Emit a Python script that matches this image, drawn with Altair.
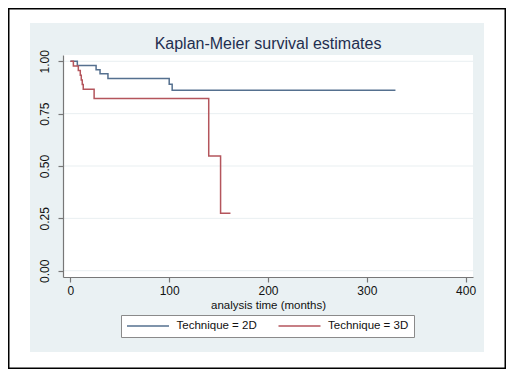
import altair as alt
import pandas as pd

# ---- data ----
times_2d = [0, 7, 26, 30, 38, 100, 103, 329]
surv_2d = [1.0, 0.980, 0.960, 0.940, 0.918, 0.890, 0.862, 0.862]
times_3d = [0, 3, 8, 10, 11, 12, 13, 24, 140, 152, 162]
surv_3d = [1.0, 0.978, 0.956, 0.933, 0.911, 0.889, 0.867, 0.822, 0.548, 0.274, 0.274]
groups = ["Technique = 2D", "Technique = 3D"]
x_ticks = [0, 100, 200, 300, 400]
y_ticks = [0.0, 0.25, 0.5, 0.75, 1.0]

# ---- styles ----
FONT = "Liberation Sans, Arial, Helvetica, sans-serif"
colors = ["#55708f", "#b4555c"]
PANEL = "#eaf1f3"
GRID = "#e9eff1"
AXIS = "#777777"
W, H = 410, 222

rows = []
for g, ts, ss in [(groups[0], times_2d, surv_2d), (groups[1], times_3d, surv_3d)]:
    for t, s in zip(ts, ss):
        rows.append({"group": g, "time": t, "surv": s})
km = pd.DataFrame(rows)
one = pd.DataFrame({"k": [0]})
grid_df = pd.DataFrame({"surv": y_ticks})

xscale = alt.Scale(domain=[-7.5, 407.5], nice=False, zero=False)
yscale = alt.Scale(domain=[-0.03, 1.03], nice=False, zero=False)

yaxis = alt.Axis(values=y_ticks, format=".2f", labelAngle=270, labelAlign="center",
                 labelBaseline="bottom", labelPadding=7, labelFontSize=12, labelFont=FONT,
                 labelColor="#111111", tickSize=5, tickColor=AXIS, tickWidth=1.2,
                 domainColor=AXIS, domainWidth=1.2, grid=False, title="", zindex=1)
xaxis = alt.Axis(values=x_ticks, format="d", labelFontSize=12, labelFont=FONT,
                 labelColor="#111111", labelPadding=3, labelFlush=False, tickSize=5,
                 tickColor=AXIS, tickWidth=1.2, domainColor=AXIS, domainWidth=1.2,
                 grid=False, title="analysis time (months)", titleFont=FONT,
                 titleFontSize=11.5, titleFontWeight="normal", titleColor="#111111",
                 titlePadding=3, zindex=1)

frame = alt.Chart(one).mark_rect(fillOpacity=0, stroke="black", strokeWidth=1.5).encode(
    x=alt.value(-54.25), x2=alt.value(442.25), y=alt.value(-46.25), y2=alt.value(313.25))
panel = alt.Chart(one).mark_rect(fill=PANEL).encode(
    x=alt.value(-33), x2=alt.value(421), y=alt.value(-32), y2=alt.value(297))
plotbg = alt.Chart(one).mark_rect(fill="white").encode(
    x=alt.value(0), x2=alt.value(W), y=alt.value(0), y2=alt.value(H))

grid = alt.Chart(grid_df).mark_rule(color=GRID, strokeWidth=1).encode(
    y=alt.Y("surv:Q", scale=yscale, axis=yaxis))

lines = alt.Chart(km).mark_line(interpolate="step-after", strokeWidth=1.5).encode(
    x=alt.X("time:Q", scale=xscale, axis=xaxis),
    y=alt.Y("surv:Q", scale=yscale, axis=yaxis),
    color=alt.Color("group:N", scale=alt.Scale(domain=groups, range=colors),
                    legend=alt.Legend(title=None, orient="none", legendX=58, legendY=260,
                                      direction="horizontal", symbolType="stroke",
                                      symbolSize=1764, symbolStrokeWidth=1.5,
                                      clipHeight=12,
                                      labelFontSize=11.5, labelFont=FONT, labelColor="#111111",
                                      labelOffset=6.5, columnPadding=20.5, padding=5,
                                      strokeColor="#8a8a8a", fillColor="white")),
    detail="group:N",
)

chart = alt.layer(panel, frame, plotbg, grid, lines).properties(
    width=W, height=H,
    title=alt.TitleParams("Kaplan-Meier survival estimates", fontSize=16, font=FONT,
                          color="#1f2e4f", fontWeight="normal", anchor="middle",
                          frame="group", baseline="alphabetic", offset=-57),
    padding={"left": 55, "top": 47, "right": 33, "bottom": 92},
    autosize=alt.AutoSizeParams(type="none"),
    background="white",
).configure_view(strokeWidth=0)

chart.save("out.html", embed_options={"renderer": "svg", "actions": False})
